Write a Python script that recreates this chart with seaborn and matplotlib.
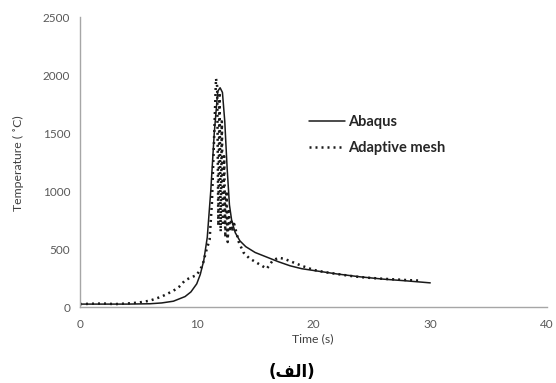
import matplotlib
matplotlib.use("Agg")
import matplotlib.pyplot as plt
import seaborn as sns
import pandas as pd

# ---- data ----
abaqus_t = [0, 2, 4, 6, 7, 8, 9, 9.5, 10, 10.3, 10.6, 10.9, 11.2, 11.5, 11.8, 12.0,
            12.2, 12.4, 12.6, 12.8, 13.0, 13.3, 13.7, 14.2, 15, 16, 17, 18, 19, 20,
            22, 24, 26, 28, 30]
abaqus_T = [25, 25, 25, 28, 35, 50, 90, 130, 200, 280, 400, 600, 1000, 1500, 1860, 1890,
            1850, 1600, 1200, 880, 740, 640, 570, 520, 470, 430, 390, 355, 330, 315,
            285, 260, 240, 225, 208]

adaptive_t = [0, 1, 2, 3, 4, 5, 6, 7, 8, 8.5, 9, 9.5, 10, 10.5, 10.8, 11.1, 11.3, 11.5,
              11.65, 11.75, 11.85, 11.95, 12.05, 12.15, 12.25, 12.35, 12.45, 12.55, 12.65,
              12.75, 12.85, 12.95, 13.05, 13.15, 13.3, 13.6, 14.0, 14.5, 15.0, 15.5, 16.0,
              16.5, 17.0, 17.5, 18, 19, 20, 21, 22, 23, 24, 25, 26, 27, 28, 29]
adaptive_T = [25, 28, 30, 25, 30, 38, 55, 90, 140, 175, 230, 255, 275, 360, 480, 580, 900,
              1500, 1970, 1900, 700, 1850, 650, 1600, 700, 1300, 600, 1000, 560, 850, 650,
              760, 650, 740, 680, 560, 470, 420, 390, 360, 330, 400, 425, 415, 395, 355,
              320, 300, 285, 270, 258, 250, 243, 238, 232, 228]

series_names = ["Abaqus", "Adaptive mesh"]
x_ticks = [0, 10, 20, 30, 40]
y_ticks = [0, 500, 1000, 1500, 2000, 2500]

df_a = pd.DataFrame({"t": abaqus_t, "T": abaqus_T})
df_b = pd.DataFrame({"t": adaptive_t, "T": adaptive_T})

sns.set_theme(style="white")
plt.rcParams["font.family"] = ["Lato", "DejaVu Sans"]

W, H = 556, 383
fig = plt.figure(figsize=(W / 100, H / 100), dpi=100)
ax = fig.add_axes([80 / W, 1 - 307 / H, 467 / W, 290 / H])

sns.lineplot(data=df_a, x="t", y="T", ax=ax, color="#1a1a1a", linewidth=1.1,
             estimator=None, sort=False, label=series_names[0])
sns.lineplot(data=df_b, x="t", y="T", ax=ax, color="#1a1a1a", linewidth=1.8,
             linestyle=(0, (0.8, 1.6)), estimator=None, sort=False, label=series_names[1])

ax.set_xlim(0, 40)
ax.set_ylim(0, 2500)
ax.set_xticks(x_ticks)
ax.set_yticks(y_ticks)
ax.set_xlabel("")
ax.set_ylabel("")
ax.tick_params(axis="both", length=0, labelsize=8.5, colors="#595959")
ax.tick_params(axis="x", pad=8.5)
ax.tick_params(axis="y", pad=7)
for s in ["top", "right"]:
    ax.spines[s].set_visible(False)
for s in ["left", "bottom"]:
    ax.spines[s].set_color("#a6a6a6")
    ax.spines[s].set_linewidth(1.0)

ax.get_legend().remove()
h, l = ax.get_legend_handles_labels()
fig.legend(h, l, loc="center left", bbox_to_anchor=(309 / W, 1 - 135 / H),
           frameon=False, prop={"weight": "bold", "size": 10.5}, handlelength=2.5,
           handletextpad=0.2, labelspacing=0.85, borderpad=0, borderaxespad=0)

fig.text(18 / W, 1 - 163 / H, "Temperature ( ˚C)", rotation=90, ha="center", va="center",
         fontsize=8.8, color="#404040")
fig.text(313 / W, 1 - 339 / H, "Time (s)", ha="center", va="center",
         fontsize=8.8, color="#404040")
fig.text(292 / W, 1 - 372 / H, "(ﻒﻟﺍ)", ha="center", va="center",
         fontsize=12, fontweight="bold", family=["DejaVu Sans"], color="black")

fig.savefig("out.png", dpi=100)
